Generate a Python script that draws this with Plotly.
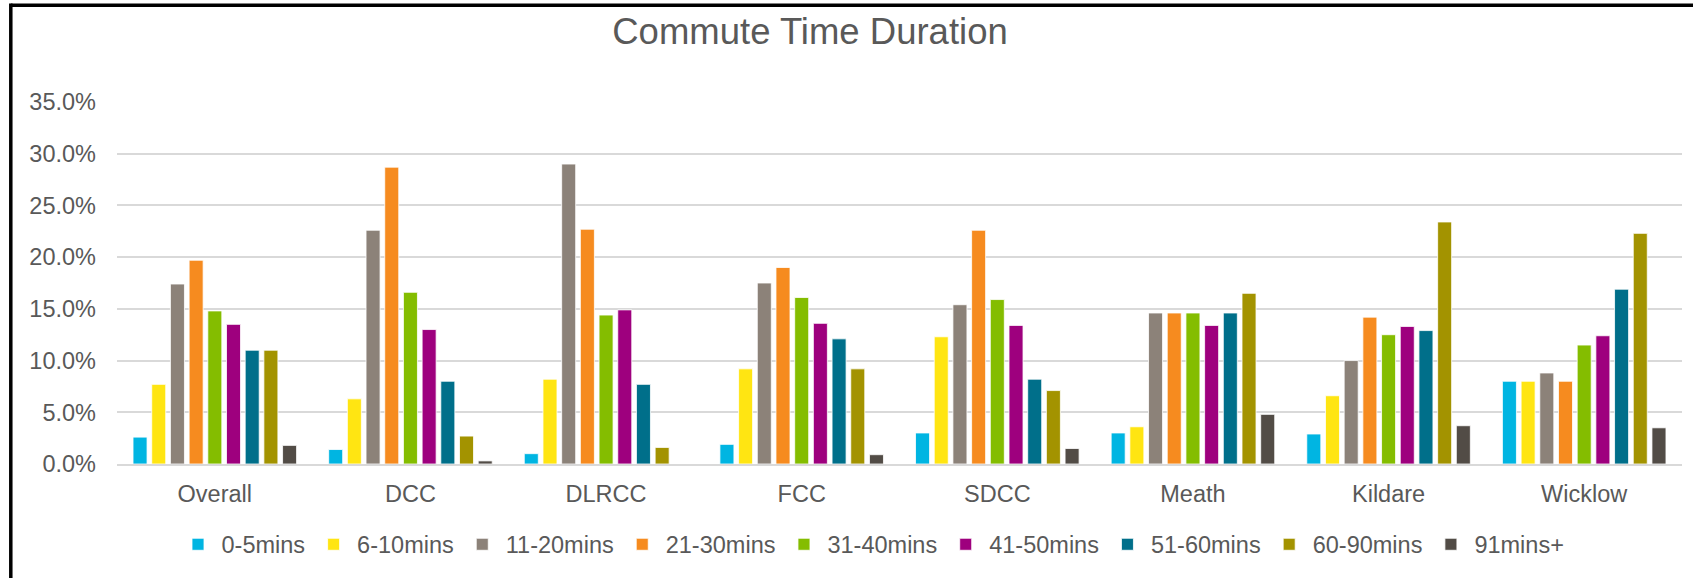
import plotly.graph_objects as go

# Categories and commute-duration bands
areas = ["Overall", "DCC", "DLRCC", "FCC", "SDCC", "Meath", "Kildare", "Wicklow"]
bands = ["0-5mins", "6-10mins", "11-20mins", "21-30mins", "31-40mins",
         "41-50mins", "51-60mins", "60-90mins", "91mins+"]

# Share of commuters (%) per band, one list per area
overall = [2.6, 7.7, 17.4, 19.7, 14.8, 13.5, 11.0, 11.0, 1.8]
dcc = [1.4, 6.3, 22.6, 28.7, 16.6, 13.0, 8.0, 2.7, 0.3]
dlrcc = [1.0, 8.2, 29.0, 22.7, 14.4, 14.9, 7.7, 1.6, 0.0]
fcc = [1.9, 9.2, 17.5, 19.0, 16.1, 13.6, 12.1, 9.2, 0.9]
sdcc = [3.0, 12.3, 15.4, 22.6, 15.9, 13.4, 8.2, 7.1, 1.5]
meath = [3.0, 3.6, 14.6, 14.6, 14.6, 13.4, 14.6, 16.5, 4.8]
kildare = [2.9, 6.6, 10.0, 14.2, 12.5, 13.3, 12.9, 23.4, 3.7]
wicklow = [8.0, 8.0, 8.8, 8.0, 11.5, 12.4, 16.9, 22.3, 3.5]

band_colors = ["#00B5E2", "#FFE512", "#8C8279", "#F68B1F", "#84BD00",
               "#9E007E", "#006F8A", "#A39300", "#524C46"]

rows = [overall, dcc, dlrcc, fcc, sdcc, meath, kildare, wicklow]

W, H = 1693, 578
L, R, T, B = 117, 11, 102, 114
FONT = "Liberation Sans, Arial, sans-serif"
GREY = "#595959"

fig = go.Figure()
for i, band in enumerate(bands):
    fig.add_trace(go.Bar(
        name=band,
        x=areas,
        y=[row[i] / 100 for row in rows],
        marker=dict(color=band_colors[i], line=dict(color="white", width=0.8)),
    ))

pw = W - L - R
ph = H - T - B


def px_x(px):
    return (px - L) / pw


def px_y(py):
    return (H - B - py) / ph


# Chart-area frame (left and top edges)
shapes = [
    dict(type="line", xref="paper", yref="paper",
         x0=px_x(10.8), x1=px_x(W + 5), y0=px_y(5.3), y1=px_y(5.3),
         line=dict(color="black", width=3.5)),
    dict(type="line", xref="paper", yref="paper",
         x0=px_x(10.8), x1=px_x(10.8), y0=px_y(3.5), y1=px_y(H + 5),
         line=dict(color="black", width=3.5)),
]

fig.update_layout(
    width=W, height=H,
    margin=dict(l=L, r=R, t=T, b=B, pad=0),
    paper_bgcolor="white", plot_bgcolor="white",
    barmode="group", bargap=0.14, bargroupgap=0.25,
    font=dict(family=FONT, color=GREY, size=23.5),
    title=dict(text="Commute Time Duration", xref="container", yref="container",
               x=810 / W, xanchor="center", y=1 - 31 / H, yanchor="middle",
               font=dict(family=FONT, size=36.5, color=GREY)),
    xaxis=dict(showgrid=False, showline=True, linecolor="#D9D9D9", linewidth=1.5,
               ticks="", ticklabelstandoff=8,
               tickfont=dict(family=FONT, size=23.5, color=GREY)),
    yaxis=dict(range=[0, 0.35], dtick=0.05, tickformat=".1%",
               showgrid=True, gridcolor="#D9D9D9", gridwidth=1.5,
               zeroline=False, showline=False, ticks="", ticklabelstandoff=20,
               tickfont=dict(family=FONT, size=23.5, color=GREY)),
    legend=dict(orientation="h", x=px_x(872), xanchor="center", y=px_y(544.5), yanchor="middle",
                font=dict(family=FONT, size=23.5, color=GREY),
                itemwidth=37, bgcolor="rgba(0,0,0,0)"),
    shapes=shapes,
)

fig.write_html("out.html")
